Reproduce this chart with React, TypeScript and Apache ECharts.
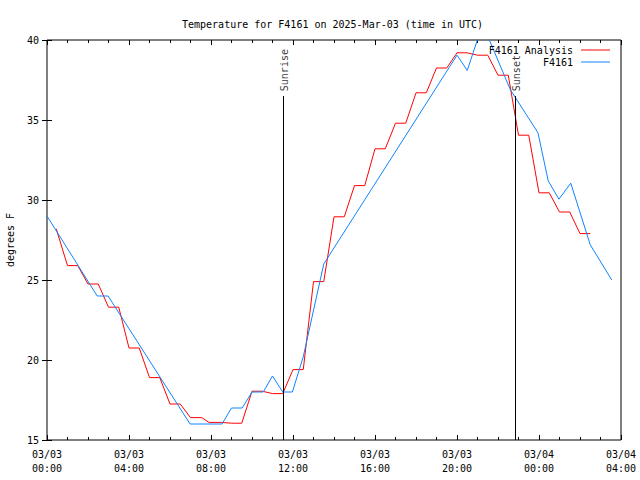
import React, { useEffect, useRef } from "react";
import * as echarts from "echarts";

// Hours since 2025-03-03 00:00 UTC
const analysisHours = [0.45, 1.0, 1.5, 2.0, 2.5, 3.0, 3.5, 4.0, 4.5, 5.0, 5.5, 6.0, 6.5, 7.0, 7.55, 7.9, 8.5, 9.0, 9.5, 10.0, 10.5, 11.0, 11.5, 12.0, 12.5, 13.0, 13.5, 14.0, 14.5, 15.0, 15.5, 16.0, 16.5, 17.0, 17.5, 18.0, 18.5, 19.0, 19.5, 20.0, 20.5, 21.0, 21.5, 22.0, 22.5, 23.0, 23.5, 24.0, 24.5, 25.0, 25.5, 26.0, 26.5];
const analysisTemps = [28.2, 25.9, 25.9, 24.75, 24.75, 23.3, 23.3, 20.75, 20.75, 18.9, 18.9, 17.25, 17.25, 16.4, 16.4, 16.1, 16.1, 16.05, 16.05, 18.05, 18.05, 17.9, 17.9, 19.4, 19.4, 24.9, 24.9, 28.95, 28.95, 30.9, 30.9, 33.2, 33.2, 34.8, 34.8, 36.7, 36.7, 38.25, 38.25, 39.2, 39.2, 39.05, 39.05, 37.8, 37.8, 34.05, 34.05, 30.45, 30.45, 29.25, 29.25, 27.9, 27.9];

const obsHours = [0, 2.45, 2.98, 6.98, 8.54, 9.0, 9.52, 10.0, 10.55, 11.0, 11.5, 11.97, 12.5, 13.5, 20.0, 20.5, 21.25, 22.6, 23.95, 24.45, 24.97, 25.55, 26.5, 27.55];
const obsTemps = [29, 24, 24, 16, 16, 17, 17, 18, 18, 19, 18, 18, 20.2, 26, 39.05, 38.1, 41, 36.9, 34.2, 31.2, 30.05, 31.05, 27.2, 25];

const sunEventNames = ["Sunrise", "Sunset"];
const sunEventHours = [11.53, 22.83];

const xTickLabels = ["03/03\n00:00", "03/03\n04:00", "03/03\n08:00", "03/03\n12:00", "03/03\n16:00", "03/03\n20:00", "03/04\n00:00", "03/04\n04:00"];

const FONT = "DejaVu Sans Mono";
const SUN_LINE_TOP = 36.5;
const SUN_LABEL_Y = 36.8;

export default function App() {
  const ref = useRef<HTMLDivElement>(null);
  useEffect(() => {
    if (!ref.current) return;
    const chart = echarts.init(ref.current, null, { renderer: "svg" });
    const analysisData = analysisHours.map((h, i) => [h, analysisTemps[i]]);
    const obsData = obsHours.map((h, i) => [h, obsTemps[i]]);
    const sunData = sunEventNames.map((n, i) => ({ name: n, value: [sunEventHours[i], SUN_LABEL_Y] }));
    const sunLines = sunEventHours.map((h) => [
      { coord: [h, 15] },
      { coord: [h, SUN_LINE_TOP] },
    ]);

    const xCommon = {
      type: "value",
      min: 0,
      max: 28,
      interval: 4,
      axisLine: { show: false },
      splitLine: { show: false },
      axisTick: { show: true, inside: true, length: 5, lineStyle: { color: "#000" } },
      minorTick: { show: true, splitNumber: 4, length: 3, lineStyle: { color: "#000" } },
    };
    const yCommon = {
      type: "value",
      min: 15,
      max: 40,
      interval: 5,
      axisLine: { show: false },
      splitLine: { show: false },
      axisTick: { show: true, inside: true, length: 5, lineStyle: { color: "#000" } },
    };

    const legendText = { fontFamily: FONT, fontSize: 10, color: "#000", padding: [0, 3, 0, 0] };

    chart.setOption({
      animation: false,
      backgroundColor: "#fff",
      textStyle: { fontFamily: FONT },
      title: {
        text: "Temperature for F4161 on 2025-Mar-03 (time in UTC)",
        left: 177,
        top: 14,
        textStyle: { fontFamily: FONT, fontSize: 10, fontWeight: "normal", color: "#000" },
      },
      legend: [
        {
          data: ["F4161 Analysis"],
          right: 30,
          top: 45,
          align: "right",
          icon: "rect",
          itemWidth: 29,
          itemHeight: 1,
          itemGap: 0,
          padding: 0,
          selectedMode: false,
          textStyle: legendText,
        },
        {
          data: ["F4161"],
          right: 30,
          top: 57,
          align: "right",
          icon: "rect",
          itemWidth: 29,
          itemHeight: 1,
          itemGap: 0,
          padding: 0,
          selectedMode: false,
          textStyle: legendText,
        },
      ],
      grid: {
        left: 47,
        right: 19,
        top: 40,
        bottom: 40,
        show: true,
        borderColor: "#000",
        borderWidth: 1,
        backgroundColor: "transparent",
        containLabel: false,
        outerBoundsMode: "none",
      },
      xAxis: [
        {
          ...xCommon,
          position: "bottom",
          axisLabel: {
            show: true,
            color: "#000",
            fontSize: 10,
            fontFamily: FONT,
            lineHeight: 14,
            margin: 7,
            showMinLabel: true,
            showMaxLabel: true,
            formatter: (v: number) => xTickLabels[Math.round(v / 4)] ?? "",
          },
        },
        {
          ...xCommon,
          position: "top",
          axisLabel: { show: false },
        },
      ],
      yAxis: [
        {
          ...yCommon,
          position: "left",
          name: "degrees F",
          nameLocation: "middle",
          nameGap: 32,
          nameTextStyle: { fontFamily: FONT, fontSize: 10, color: "#000" },
          axisLabel: { show: true, color: "#000", fontSize: 10, fontFamily: FONT, margin: 8 },
        },
        {
          ...yCommon,
          position: "right",
          axisLabel: { show: false },
        },
      ],
      series: [
        {
          name: "F4161 Analysis",
          type: "line",
          data: analysisData,
          showSymbol: false,
          symbol: "none",
          lineStyle: { color: "#ff0000", width: 1 },
          itemStyle: { color: "#ff0000" },
          clip: true,
        },
        {
          name: "F4161",
          type: "line",
          data: obsData,
          showSymbol: false,
          symbol: "none",
          lineStyle: { color: "#1084ff", width: 1 },
          itemStyle: { color: "#1084ff" },
          clip: true,
        },
        {
          name: "sun",
          type: "scatter",
          data: sunData,
          symbolSize: 0,
          silent: true,
          label: {
            show: true,
            formatter: (p: any) => p.name,
            position: [1, 0],
            rotate: 90,
            align: "left",
            verticalAlign: "middle",
            fontFamily: FONT,
            fontSize: 10,
            color: "#000",
          },
          markLine: {
            silent: true,
            symbol: "none",
            label: { show: false },
            lineStyle: { color: "#000", width: 1, type: "solid" },
            data: sunLines,
          },
        },
      ],
    });
    return () => chart.dispose();
  }, []);
  return <div ref={ref} style={{ width: 640, height: 480, position: "absolute", left: 0, top: 0 }} />;
}
